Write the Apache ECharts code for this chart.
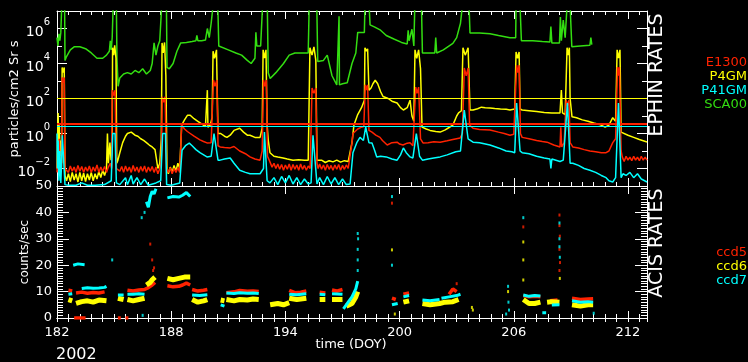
<!DOCTYPE html>
<html><head><meta charset="utf-8">
<script src="https://cdn.jsdelivr.net/npm/echarts@6/dist/echarts.min.js"></script>
<style>html,body{margin:0;padding:0;background:#000;}#c{width:748px;height:362px;}</style>
</head><body><div id="c"></div>
<script>
// ---------- colours ----------
const RED = '#ff2200', YEL = '#ffff00', CYA = '#00ffff', GRN = '#33dd11';
const FONT = 'DejaVu Sans';

// ---------- labels ----------
const ephinNames = ['E1300', 'P4GM', 'P41GM', 'SCA00'];
const acisNames = ['ccd5', 'ccd6', 'ccd7'];
const xMajorTicks = [182, 188, 194, 200, 206, 212];
const logLabelValues = [1e-2, 1, 1e2, 1e4, 1e6];
const logMinorValues = [1e-3, 1e-1, 1e1, 1e3, 1e5];
const year = '2002';

// ---------- EPHIN rates (DOY, particles/cm2 Sr s) ----------
const sca00 = [[182.0,3e5],[182.05,1e5],[182.1,5e5],[182.15,2e5],[182.2,6e5],[182.25,2e7],[182.4,2e7],[182.42,1.5e4],[182.5,2.5e4],[182.7,6e4],[182.9,9e4],[183.2,9e4],[183.5,7e4],[183.8,4e4],[184.1,2e4],[184.4,2e4],[184.6,3e4],[184.75,5e4],[184.8,2e5],[184.85,6e4],[184.9,3e5],[184.95,2e7],[185.12,2e7],[185.15,2e4],[185.21,500],[185.3,1500],[185.5,2500],[185.7,3000],[185.9,2500],[186.1,4000],[186.3,3000],[186.5,5000],[186.7,2500],[186.9,4000],[187.0,1e4],[187.1,1.5e5],[187.2,3e4],[187.3,1e5],[187.4,2e5],[187.5,2e7],[187.75,2e7],[187.78,6000],[187.9,5000],[188.1,1e4],[188.3,5e4],[188.5,1.5e5],[188.8,1.6e5],[189.1,1.8e5],[189.3,2e5],[189.35,4e5],[189.4,2e5],[189.6,2e5],[189.8,2.2e5],[189.9,1e6],[190.0,3e5],[190.1,2e6],[190.2,2e7],[190.45,2e7],[190.5,1e5],[190.6,8e4],[191.0,6e4],[191.4,4e4],[191.7,3e4],[192.0,1.5e4],[192.2,1e4],[192.4,2e4],[192.45,6e5],[192.5,1e5],[192.7,1e5],[192.8,2e7],[193.05,2e7],[193.1,3000],[193.2,1400],[193.5,3000],[193.9,1e4],[194.2,3e4],[194.5,4e4],[195.2,4e4],[195.25,2e7],[195.65,2e7],[195.7,1.3e4],[196.0,1.5e4],[196.2,3e4],[196.45,2000],[196.7,600],[196.8,600],[196.82,5e6],[196.84,600],[197.0,700],[197.25,800],[197.5,1e4],[197.7,4e4],[197.8,6e5],[198.15,6e5],[198.18,2e7],[198.4,2e7],[198.45,1.6e6],[198.7,1.2e6],[199.0,8e5],[199.3,4e5],[199.7,2.5e5],[200.1,1.6e5],[200.4,1.3e5],[200.45,8e5],[200.5,2e5],[200.65,9e5],[200.75,1e5],[200.8,2e7],[201.15,2e7],[201.2,4e4],[201.5,4e4],[201.85,4e4],[201.9,3e5],[201.95,4e4],[202.3,6e4],[202.8,1.4e5],[203.0,3e5],[203.2,2e6],[203.3,2e7],[203.65,2e7],[203.7,5.5e5],[204.2,5.5e5],[204.75,5e5],[205.2,4e5],[205.8,3e5],[206.1,3e5],[206.12,2e7],[206.33,2e7],[206.4,2e5],[207.0,2e5],[207.5,1.8e5],[207.9,1.7e5],[207.95,1.3e6],[208.0,1.5e5],[208.4,1.5e5],[208.45,4.5e6],[208.5,2e5],[208.6,3e6],[208.7,3e5],[208.8,2e7],[208.96,2e7],[209.05,9e4],[209.5,1e5],[210.0,1.1e5],[210.05,3e5],[210.1,1.2e5]];

const p4gm = [[182.0,0.01],[182.03,0.5],[182.06,15],[182.09,0.2],[182.12,3],[182.16,0.05],[182.2,0.4],[182.24,0.02],[182.27,6000],[182.33,3000],[182.38,6000],[182.42,0.004],[182.5,0.002],[182.6,0.005],[182.7,0.0018],[182.8,0.006],[182.9,0.0022],[183.0,0.005],[183.1,0.0017],[183.2,0.006],[183.3,0.002],[183.4,0.0055],[183.5,0.0018],[183.6,0.005],[183.7,0.0022],[183.8,0.006],[183.9,0.002],[184.0,0.005],[184.1,0.0025],[184.2,0.007],[184.3,0.003],[184.4,0.008],[184.5,0.004],[184.6,0.01],[184.65,1],[184.7,0.02],[184.78,0.3],[184.84,0.03],[184.9,0.1],[184.92,8e4],[184.98,3e4],[185.03,1.1e5],[185.1,2e4],[185.14,0.02],[185.2,0.03],[185.3,0.08],[185.45,0.3],[185.6,0.7],[185.7,1],[185.8,0.8],[185.9,1.2],[186.0,1.1],[186.1,0.8],[186.25,0.7],[186.4,0.5],[186.55,0.4],[186.7,0.3],[186.85,0.22],[187.0,0.17],[187.15,0.12],[187.25,0.1],[187.3,0.01],[187.4,0.02],[187.48,0.5],[187.52,1.5e5],[187.58,4e4],[187.65,1.6e5],[187.72,2e3],[187.78,0.01],[187.85,0.005],[187.95,0.012],[188.05,0.006],[188.15,0.015],[188.25,0.007],[188.35,0.02],[188.45,0.01],[188.55,3],[188.7,6],[188.85,11],[189.0,11],[189.2,7],[189.4,5],[189.6,3.5],[189.8,2.5],[189.88,2.3],[189.9,300],[189.93,2.3],[190.05,3],[190.15,8],[190.2,5e4],[190.28,2e4],[190.38,6e4],[190.46,1],[190.6,1],[190.8,0.7],[190.93,0.6],[191.1,0.8],[191.3,1.5],[191.6,2],[191.8,1.2],[192.0,0.8],[192.14,0.8],[192.4,0.6],[192.67,0.6],[192.78,2],[192.83,6e4],[192.9,2e4],[192.98,6e4],[193.04,3],[193.1,0.4],[193.19,0.08],[193.4,0.05],[193.6,0.045],[193.88,0.04],[194.1,0.035],[194.4,0.03],[194.7,0.032],[195.0,0.03],[195.2,0.03],[195.29,8e4],[195.4,3e4],[195.5,9e4],[195.6,1.5e4],[195.66,0.03],[195.72,0.025],[195.9,0.03],[196.1,0.022],[196.3,0.028],[196.5,0.024],[196.7,0.03],[196.9,0.023],[197.1,0.028],[197.3,0.025],[197.4,0.03],[197.5,0.3],[197.6,3],[197.8,12],[198.0,30],[198.15,80],[198.18,8e4],[198.26,5e4],[198.32,7e4],[198.39,300],[198.5,400],[198.6,700],[198.72,1100],[198.85,700],[199.0,250],[199.13,130],[199.4,100],[199.6,70],[199.87,55],[200.05,30],[200.2,22],[200.4,30],[200.55,80],[200.65,10],[200.75,5],[200.81,6e4],[200.9,2e4],[201.0,6e4],[201.1,5e3],[201.18,2.3],[201.4,1.8],[201.6,1.5],[201.9,1.3],[202.13,1.2],[202.4,1.6],[202.6,2.2],[202.8,3],[203.0,10],[203.1,15],[203.25,20],[203.33,8e4],[203.45,3e4],[203.6,8e4],[203.7,22],[203.86,22],[204.1,26],[204.3,32],[204.5,30],[204.75,29],[205.0,27],[205.3,25],[205.6,24],[205.8,22],[206.05,25],[206.12,4.6e4],[206.2,2e4],[206.28,4.6e4],[206.33,25],[206.44,22],[206.8,20],[207.2,18],[207.6,16],[208.0,15],[208.43,15],[208.5,300],[208.56,15],[208.7,12],[208.8,8e4],[208.86,3e4],[208.92,8e4],[208.96,100],[209.06,9],[209.3,8],[209.6,6],[209.9,5],[210.2,4],[210.5,3.3],[210.8,2.3],[211.0,3],[211.2,8],[211.35,5],[211.43,6e4],[211.5,2e4],[211.58,6e4],[211.64,1.2],[211.74,1.2],[212.0,0.8],[212.3,0.6],[212.6,0.45],[213.0,0.33]];

const e1300 = [[182.0,0.006],[182.04,0.1],[182.08,0.008],[182.12,0.5],[182.16,0.01],[182.2,0.05],[182.24,0.01],[182.27,1600],[182.33,800],[182.38,1600],[182.42,0.01],[182.5,0.013],[182.6,0.006],[182.7,0.014],[182.8,0.007],[182.9,0.012],[183.0,0.006],[183.1,0.015],[183.2,0.007],[183.3,0.013],[183.4,0.006],[183.5,0.012],[183.6,0.007],[183.7,0.014],[183.8,0.006],[183.9,0.012],[184.0,0.007],[184.1,0.016],[184.2,0.006],[184.3,0.012],[184.4,0.007],[184.5,0.013],[184.6,0.006],[184.7,0.012],[184.8,0.02],[184.87,0.01],[184.9,300],[184.98,150],[185.05,300],[185.12,0.01],[185.2,0.012],[185.3,0.007],[185.4,0.013],[185.5,0.006],[185.6,0.014],[185.7,0.007],[185.8,0.012],[185.9,0.006],[186.0,0.015],[186.1,0.007],[186.2,0.012],[186.3,0.006],[186.4,0.013],[186.5,0.007],[186.6,0.014],[186.7,0.006],[186.8,0.012],[186.9,0.007],[187.0,0.013],[187.1,0.006],[187.2,0.012],[187.3,0.005],[187.4,0.01],[187.48,0.03],[187.53,125],[187.6,60],[187.68,125],[187.76,0.01],[187.85,0.006],[187.95,0.011],[188.05,0.005],[188.15,0.01],[188.25,0.006],[188.35,0.011],[188.45,0.006],[188.55,3.1],[188.7,1.8],[188.85,1.3],[189.0,1],[189.2,0.7],[189.51,0.43],[189.7,0.35],[189.88,0.29],[190.1,0.3],[190.22,1150],[190.3,500],[190.4,1150],[190.46,0.2],[190.57,0.17],[190.8,0.16],[191.1,0.15],[191.3,0.18],[191.6,0.1],[191.9,0.07],[192.14,0.046],[192.4,0.035],[192.67,0.03],[192.78,0.1],[192.85,1150],[192.92,500],[193.0,1150],[193.06,0.05],[193.15,0.03],[193.3,0.012],[193.4,0.02],[193.5,0.01],[193.6,0.018],[193.7,0.009],[193.8,0.017],[193.9,0.008],[194.0,0.016],[194.1,0.009],[194.2,0.018],[194.3,0.008],[194.4,0.017],[194.5,0.009],[194.6,0.016],[194.7,0.008],[194.8,0.018],[194.9,0.009],[195.0,0.015],[195.1,0.008],[195.2,0.014],[195.3,0.01],[195.4,400],[195.5,200],[195.6,400],[195.66,0.02],[195.72,0.01],[195.8,0.018],[195.9,0.009],[196.0,0.016],[196.1,0.008],[196.2,0.017],[196.3,0.009],[196.4,0.015],[196.5,0.008],[196.6,0.016],[196.7,0.009],[196.8,0.017],[196.9,0.008],[197.0,0.015],[197.1,0.009],[197.2,0.016],[197.3,0.01],[197.4,0.012],[197.5,0.3],[197.55,1],[197.8,1.8],[198.0,2.3],[198.12,2.5],[198.2,600],[198.26,300],[198.32,600],[198.39,1.5],[198.55,1.2],[198.75,0.8],[198.97,0.6],[199.1,0.4],[199.35,0.22],[199.6,0.3],[199.87,0.32],[200.0,0.25],[200.18,0.22],[200.4,0.28],[200.55,0.3],[200.7,0.2],[200.85,450],[200.92,200],[201.0,450],[201.1,0.5],[201.23,0.29],[201.5,0.3],[201.8,0.34],[202.13,0.32],[202.5,0.38],[202.8,0.45],[203.18,0.55],[203.3,1],[203.4,5500],[203.5,2000],[203.6,5500],[203.68,3],[203.86,2],[204.2,1.7],[204.75,1.6],[205.2,1.2],[205.5,1],[205.8,0.8],[206.0,0.9],[206.15,8000],[206.22,3000],[206.28,8000],[206.35,1],[206.44,0.6],[206.8,0.5],[207.2,0.4],[207.5,0.35],[207.75,0.32],[208.1,0.22],[208.43,0.17],[208.47,2.3],[208.52,0.17],[208.65,0.3],[208.75,80],[208.82,40],[208.9,80],[208.96,0.3],[209.1,0.17],[209.4,0.15],[209.7,0.12],[210.0,0.1],[210.3,0.09],[210.6,0.08],[210.85,0.08],[211.0,0.1],[211.2,0.3],[211.35,0.5],[211.45,6300],[211.5,2000],[211.55,6300],[211.64,0.1],[211.7,0.046],[211.8,0.025],[211.9,0.05],[212.0,0.03],[212.1,0.045],[212.2,0.028],[212.3,0.05],[212.4,0.03],[212.5,0.045],[212.6,0.028],[212.7,0.05],[212.8,0.03],[212.9,0.045],[213.0,0.03]];

const p41gm = [[182.0,1],[182.03,0.01],[182.06,0.4],[182.1,0.002],[182.15,0.1],[182.2,0.0015],[182.24,0.02],[182.28,0.8],[182.38,0.8],[182.42,0.0012],[182.6,0.0011],[183.0,0.0011],[183.3,0.0015],[183.6,0.0011],[184.0,0.0011],[184.5,0.0012],[184.85,0.002],[184.93,1],[185.05,1],[185.12,0.0015],[185.3,0.0012],[185.6,0.003],[185.7,0.0012],[185.9,0.004],[186.0,0.0013],[186.2,0.003],[186.4,0.0012],[186.6,0.0025],[186.8,0.0011],[187.2,0.0015],[187.45,0.002],[187.55,1],[187.7,1],[187.76,0.0012],[188.0,0.0011],[188.45,0.0015],[188.57,0.11],[188.75,0.2],[188.95,0.28],[189.1,0.2],[189.3,0.12],[189.51,0.08],[189.88,0.046],[190.1,0.05],[190.25,1],[190.35,1],[190.46,0.03],[190.57,0.03],[190.8,0.035],[191.1,0.04],[191.3,0.02],[191.6,0.008],[191.9,0.006],[192.14,0.005],[192.4,0.005],[192.67,0.005],[192.85,0.01],[192.9,1.2],[192.98,1.2],[193.04,0.002],[193.19,0.0015],[193.4,0.003],[193.6,0.0012],[193.8,0.0035],[194.0,0.0015],[194.2,0.004],[194.4,0.0013],[194.6,0.003],[194.8,0.0012],[195.0,0.0025],[195.2,0.0013],[195.35,0.0015],[195.45,0.8],[195.55,0.8],[195.66,0.0013],[195.8,0.003],[196.0,0.0012],[196.2,0.0035],[196.4,0.0013],[196.6,0.003],[196.8,0.0012],[197.0,0.0025],[197.2,0.0012],[197.4,0.0013],[197.55,0.08],[197.75,0.3],[197.92,0.6],[198.1,0.4],[198.22,2.3],[198.3,2.3],[198.39,0.3],[198.55,0.29],[198.7,0.1],[198.8,0.046],[199.0,0.05],[199.3,0.046],[199.6,0.035],[199.87,0.03],[200.05,0.06],[200.2,0.15],[200.35,0.08],[200.55,0.046],[200.7,0.04],[200.88,1],[200.95,1],[201.05,0.05],[201.2,0.03],[201.5,0.035],[201.8,0.04],[202.13,0.046],[202.5,0.06],[202.95,0.09],[203.2,0.1],[203.4,22],[203.48,22],[203.6,0.5],[203.86,0.32],[204.2,0.3],[204.75,0.22],[205.2,0.15],[205.6,0.1],[205.9,0.09],[206.05,0.08],[206.15,55],[206.22,55],[206.33,0.1],[206.44,0.08],[206.8,0.07],[207.2,0.05],[207.6,0.04],[207.9,0.035],[207.95,0.01],[208.0,0.035],[208.43,0.025],[208.6,0.03],[208.82,55],[208.88,55],[208.96,0.02],[209.1,0.02],[209.4,0.015],[209.7,0.01],[210.0,0.008],[210.3,0.006],[210.6,0.004],[210.85,0.003],[211.0,0.002],[211.2,0.0017],[211.35,0.003],[211.5,55],[211.57,55],[211.64,0.003],[211.74,0.005],[211.9,0.004],[212.1,0.006],[212.3,0.003],[212.5,0.005],[212.7,0.0025],[213.0,0.0017]];

// threshold levels
const thrP4gm = 100, thrE1300 = 3.5, thrP41gm = 2.5;

// ---------- ACIS rates (DOY, counts/sec); '-' separates observation blocks ----------
const ccd5Bands = [[182.6,10.5],[182.8,10.2],[182.8,'-'],[183.0,9.5],[183.3,9.8],[183.6,9.4],[183.9,9.7],[184.2,9.5],[184.5,9.9],[184.5,'-'],[185.7,10.5],[186.0,10.2],[186.3,10.6],[186.6,10.8],[186.8,11.5],[187.0,12.5],[187.15,13.5],[187.15,'-'],[187.8,12.2],[188.1,11.8],[188.4,12],[188.6,12.5],[188.8,13.2],[189.0,12.5],[189.0,'-'],[189.1,10.8],[189.4,10.2],[189.7,10.5],[189.9,10.8],[189.9,'-'],[190.9,9.6],[191.3,9.9],[191.6,10.4],[192.0,10.1],[192.3,10.2],[192.6,10.0],[192.6,'-'],[194.2,10.5],[194.5,9.6],[194.8,9.8],[195.1,10.2],[195.1,'-'],[195.8,9.8],[196.1,9.5],[196.1,'-'],[196.45,10.6],[196.7,10.2],[197.0,10.8],[197.0,'-'],[199.6,7.5],[199.8,7.0],[199.8,'-'],[200.2,9],[200.5,9.5],[200.5,'-'],[202.6,9],[202.8,11],[203.0,10],[203.0,'-'],[206.5,8.5],[206.8,8],[207.1,8.2],[207.4,8],[207.4,'-'],[207.9,6.5],[208.3,6.8],[208.3,'-'],[209.06,7.5],[209.5,7],[209.9,7.2],[210.17,7.3],[210.17,'-'],[182.9,0],[183.5,0],[183.5,'-'],[185.2,0],[185.35,0],[185.35,'-'],[185.6,0],[185.75,0]];
const ccd6Bands = [[182.6,7],[182.8,6.5],[182.8,'-'],[183.0,5.5],[183.3,6.2],[183.6,6.5],[183.9,6],[184.2,6.8],[184.6,6.5],[184.6,'-'],[185.2,7.5],[185.5,7],[185.5,'-'],[185.7,7],[186.0,6.5],[186.3,7],[186.6,7.5],[186.6,'-'],[186.7,12.5],[186.9,13.5],[187.0,14.5],[187.15,15.5],[187.15,'-'],[187.8,15],[188.1,14.5],[188.4,15],[188.7,15.5],[189.0,15.5],[189.0,'-'],[189.1,7],[189.4,6],[189.7,6.5],[189.9,7],[189.9,'-'],[190.6,6.8],[190.8,6.5],[190.8,'-'],[190.9,7],[191.3,6.5],[191.6,7],[192.0,6.8],[192.3,7.2],[192.6,7],[192.6,'-'],[193.2,5],[193.6,5.5],[193.9,5],[194.2,5.8],[194.2,'-'],[194.2,7.5],[194.6,7],[195.1,7.5],[195.1,'-'],[195.8,7],[196.1,7],[196.1,'-'],[196.45,7],[197.0,7],[197.0,'-'],[197.2,4.5],[197.5,5.5],[197.7,8],[197.8,10],[197.8,'-'],[200.2,6],[200.5,6.5],[200.5,'-'],[201.2,5.5],[201.6,5],[202.1,5.5],[202.4,6],[202.8,6.2],[203.1,7],[203.1,'-'],[206.5,7],[206.8,5.5],[207.1,5.5],[207.4,6],[207.4,'-'],[207.75,6],[208.0,6.2],[208.4,6],[208.4,'-'],[209.06,5],[209.5,4.5],[209.9,5],[210.17,5]];
const ccd7Bands = [[182.6,9],[182.8,9.2],[182.8,'-'],[182.85,20],[183.1,20.5],[183.45,20.2],[183.45,'-'],[183.3,11.2],[183.6,11.5],[183.9,11.3],[184.2,11.4],[184.5,11.6],[184.6,12],[184.6,'-'],[185.2,8.7],[185.5,8.7],[185.5,'-'],[185.7,9],[186.0,9],[186.3,9.2],[186.6,9],[186.6,'-'],[186.7,44],[186.8,42],[186.9,46],[187.0,48],[187.1,47],[187.2,49],[187.2,'-'],[187.8,45.5],[188.1,46],[188.4,45.8],[188.6,46.5],[188.8,47.5],[189.0,46],[189.0,'-'],[189.1,8.7],[189.5,8.5],[189.9,8.8],[189.9,'-'],[190.6,5],[190.8,4.5],[190.8,'-'],[190.9,9.5],[191.3,9.3],[191.6,9.6],[192.0,9.4],[192.3,9.5],[192.6,9.3],[192.6,'-'],[194.2,9],[194.6,8.8],[195.1,9.2],[195.1,'-'],[195.8,9],[196.1,8.8],[196.1,'-'],[196.45,9.2],[197.0,9],[197.0,'-'],[197.05,3.5],[197.3,6],[197.5,8],[197.7,11],[197.8,14],[197.8,'-'],[199.6,5],[199.9,5.5],[199.9,'-'],[200.2,8],[200.5,8.5],[200.5,'-'],[201.2,6.8],[201.6,6.5],[202.1,7],[202.1,'-'],[202.2,7.5],[202.6,8],[203.0,8.5],[203.2,9],[203.2,'-'],[206.5,8.7],[206.8,8.2],[207.1,8.5],[207.4,8.3],[207.4,'-'],[208.0,4.9],[208.4,5],[208.4,'-'],[209.06,6.5],[209.5,6],[209.9,6.2],[210.17,6],[210.17,'-'],[207.5,2],[207.7,2]];
const ccd5Dots = [[186.9,28],[187.0,22],[187.1,19],[187.05,18],[199.6,43.5],[206.5,34.5],[208.4,39],[208.4,35],[208.42,31],[208.4,26],[208.43,21],[208.4,18],[203.0,13]];
const ccd6Dots = [[199.6,25.8],[199.75,1.5],[206.5,28.8],[206.5,22],[206.5,14.4],[203.8,4],[203.85,3],[208.42,15],[205.7,10]];
const ccd7Dots = [[186.45,38],[186.6,40],[197.8,18],[197.8,22],[197.8,26],[197.82,30],[197.8,32],[199.6,46],[199.6,20],[206.5,38],[208.4,36],[208.4,30],[208.4,27],[208.42,23],[205.7,12],[205.72,6],[205.75,3],[205.6,1.5],[210.2,1.8],[184.9,22],[186.5,1]];

// ---------- chart ----------
const chart = echarts.init(document.getElementById('c'), null, {renderer: 'canvas'});
const W = '#ffffff';
const G0 = {left: 57, top: 11, width: 590, height: 175};
const G1 = {left: 57, top: 186, width: 590, height: 132};

function xAx(grid, pos, interval, len, labels, line) {
  return {
    type: 'value', gridIndex: grid, position: pos, min: 182, max: 213, interval: interval,
    axisLine: {show: line, lineStyle: {color: W, width: 1}},
    axisTick: {show: true, inside: true, length: len, lineStyle: {color: W, width: 1}},
    axisLabel: {show: labels, color: W, fontFamily: FONT, fontSize: 13, margin: 8,
      showMaxLabel: false,
      formatter: v => (xMajorTicks.indexOf(Math.round(v * 1000) / 1000) >= 0 ? String(Math.round(v)) : '')},
    splitLine: {show: false}
  };
}
function logAx(pos, ticks, len, labels, line) {
  return {
    type: 'log', logBase: 10, gridIndex: 0, position: pos, min: 1e-3, max: 1e7,
    axisLine: {show: line, lineStyle: {color: W, width: 1}},
    axisTick: {show: true, inside: true, length: len, customValues: ticks, lineStyle: {color: W}},
    axisLabel: {show: labels, customValues: ticks, margin: 7,
      formatter: v => { const e = Math.round(Math.log10(v)); return '{b|10}{e|' + (e < 0 ? '\u2212' + (-e) : e) + '}'; },
      rich: {
        b: {fontSize: 14, color: W, fontFamily: FONT, verticalAlign: 'bottom', lineHeight: 22},
        e: {fontSize: 10, color: W, fontFamily: FONT, verticalAlign: 'top', lineHeight: 22}
      }},
    splitLine: {show: false}
  };
}
function linAx(pos, labels) {
  return {
    type: 'value', gridIndex: 1, position: pos, min: 0, max: 50, interval: 10,
    axisLine: {show: true, lineStyle: {color: W, width: 1}},
    axisTick: {show: true, inside: true, length: 12, lineStyle: {color: W}},
    minorTick: {show: true, splitNumber: 10, length: 6, lineStyle: {color: W}},
    axisLabel: {show: labels, color: W, fontFamily: FONT, fontSize: 13, margin: 5},
    splitLine: {show: false}
  };
}

function lineSeries(name, data, color, z, w) {
  return {type: 'line', name: name, data: data, xAxisIndex: 0, yAxisIndex: 0,
    symbol: 'none', showSymbol: false, z: z, animation: false, clip: true,
    lineStyle: {color: color, width: w || 1.5}, connectNulls: false};
}
function band(name, data, color, z, w) {
  return {type: 'line', name: name, data: data, xAxisIndex: 4, yAxisIndex: 4,
    symbol: 'none', showSymbol: false, z: z, animation: false, connectNulls: false,
    lineStyle: {color: color, width: w, cap: 'butt'}};
}
function dots(name, data, color, z) {
  return {type: 'scatter', name: name, data: data, xAxisIndex: 4, yAxisIndex: 4,
    symbol: 'rect', symbolSize: [2, 3], z: z, animation: false, itemStyle: {color: color}};
}

const s1 = lineSeries(ephinNames[3], sca00, GRN, 2);
const s2 = lineSeries(ephinNames[1], p4gm, YEL, 3);
const s3 = lineSeries(ephinNames[0], e1300, RED, 4);
const s4 = lineSeries(ephinNames[2], p41gm, CYA, 5);
// threshold lines, cyan under red
s4.markLine = {silent: true, symbol: ['none', 'none'], label: {show: false}, animation: false,
  data: [
    {yAxis: thrP4gm, lineStyle: {color: YEL, width: 1.2, type: 'solid'}},
    {yAxis: thrP41gm, lineStyle: {color: CYA, width: 1, type: 'solid'}},
    {yAxis: thrE1300, lineStyle: {color: RED, width: 2, type: 'solid'}}
  ]};

function txt(x, y, text, color, size, align, rot) {
  return {type: 'text', x: x, y: y, rotation: rot || 0, silent: true, z: 100,
    style: {text: text, fill: color, font: size + 'px "' + FONT + '"', align: align || 'center', verticalAlign: 'middle'}};
}

chart.setOption({
  backgroundColor: '#000',
  animation: false,
  grid: [G0, G1],
  xAxis: [
    xAx(0, 'bottom', 0.6, 4, false, true),
    xAx(0, 'top', 0.6, 4, false, true),
    xAx(0, 'bottom', 6, 8, false, false),
    xAx(0, 'top', 6, 8, false, false),
    xAx(1, 'bottom', 0.6, 4, false, true),
    xAx(1, 'top', 0.6, 4, false, true),
    xAx(1, 'bottom', 6, 7, true, false),
    xAx(1, 'top', 6, 8, false, false)
  ],
  yAxis: [
    logAx('left', logLabelValues, 10, true, true),
    logAx('left', logMinorValues, 5, false, false),
    logAx('right', logLabelValues, 10, false, true),
    logAx('right', logMinorValues, 5, false, false),
    linAx('left', true),
    linAx('right', false)
  ],
  series: [
    s1, s2, s3, s4,
    band(acisNames[0], ccd5Bands, RED, 2, 3.5),
    band(acisNames[1], ccd6Bands, YEL, 3, 5),
    band(acisNames[2], ccd7Bands, CYA, 4, 3),
    dots(acisNames[0], ccd5Dots, RED, 5),
    dots(acisNames[1], ccd6Dots, YEL, 5),
    dots(acisNames[2], ccd7Dots, CYA, 5)
  ],
  graphic: [
    txt(15, 99, 'particles/cm2 Sr s', W, 13, 'center', Math.PI / 2),
    txt(25, 252, 'counts/sec', W, 12, 'center', Math.PI / 2),
    txt(657, 75, 'EPHIN RATES', W, 19, 'center', Math.PI / 2),
    txt(657, 243, 'ACIS RATES', W, 19, 'center', Math.PI / 2),
    txt(747, 63, ephinNames[0], RED, 13, 'right'),
    txt(747, 77, ephinNames[1], YEL, 13, 'right'),
    txt(747, 91, ephinNames[2], CYA, 13, 'right'),
    txt(747, 105, ephinNames[3], GRN, 13, 'right'),
    txt(747, 253, acisNames[0], RED, 13, 'right'),
    txt(747, 267, acisNames[1], YEL, 13, 'right'),
    txt(747, 281, acisNames[2], CYA, 13, 'right'),
    txt(351, 345, 'time (DOY)', W, 13, 'center'),
    txt(56, 355, year, W, 16, 'left')
  ]
});
</script></body></html>
